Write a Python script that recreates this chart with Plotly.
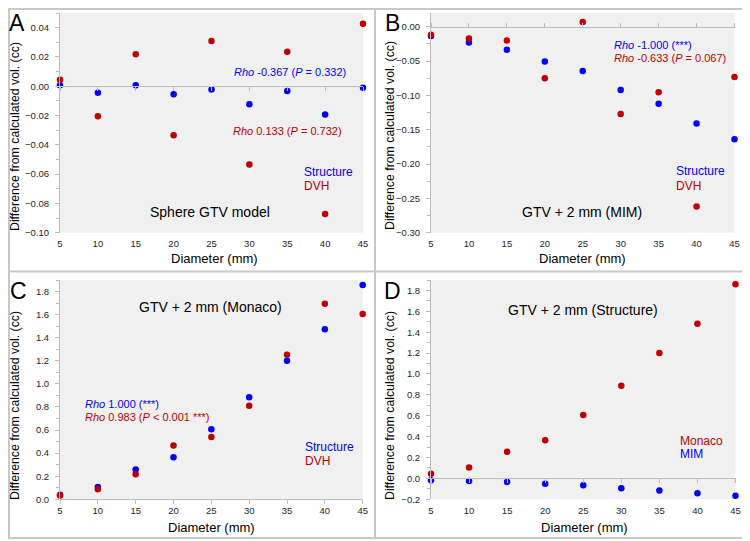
import plotly.graph_objects as go

# the page puts the figure 8 px in from the top-left corner, so the figure is
# drawn 8 px smaller and every pixel position below is shifted by that amount
W, H = 742, 533
OFF = 8
FONT = "Arial, Liberation Sans, sans-serif"
BLUE = "#0000ff"
RED = "#c00000"
AXIS_GREY = "#bdbdbd"

diameter = [5, 10, 15, 20, 25, 30, 35, 40, 45]

# A: sphere GTV model
a_structure = [0.0007, -0.0045, 0.0007, -0.0055, -0.0023, -0.0123, -0.0032, -0.0193, -0.0011]
a_dvh = [0.0045, -0.0205, 0.0218, -0.0334, 0.0309, -0.0534, 0.0236, -0.0873, 0.0427]

# B: GTV + 2 mm (MIM)
b_structure = [-0.0136, -0.0228, -0.0335, -0.0505, -0.0646, -0.0922, -0.112, -0.141, -0.164]
b_dvh = [-0.0117, -0.017, -0.020, -0.0752, 0.0068, -0.127, -0.0956, -0.262, -0.0733]

# C: GTV + 2 mm (Monaco)
c_structure = [0.040, 0.106, 0.259, 0.365, 0.606, 0.885, 1.201, 1.474, 1.856]
c_dvh = [0.034, 0.086, 0.216, 0.466, 0.540, 0.810, 1.253, 1.695, 1.606]

# D: GTV + 2 mm (Structure)
d_monaco = [0.045, 0.105, 0.255, 0.366, 0.608, 0.888, 1.200, 1.480, 1.860]
d_mim = [-0.017, -0.024, -0.034, -0.052, -0.066, -0.094, -0.116, -0.142, -0.167]


def px(x):
    return (x - OFF) / W


def py(y):
    return 1 - (y - OFF) / H


# panel geometry in page pixels: (left, right, top, bottom), y range, major, minor
panels = [
    dict(dom=(60, 363, 13, 232.7), yr=(-0.10, 0.05), dt=0.02, mdt=0.01, fmt=".2f",
         series=[(a_structure, BLUE), (a_dvh, RED)], tickside="bottom"),
    dict(dom=(431, 734.5, 13, 232.7), yr=(-0.30, 0.02), dt=0.05, mdt=0.025, fmt=".2f",
         series=[(b_structure, BLUE), (b_dvh, RED)], tickside="top"),
    dict(dom=(60, 362.7, 280, 499.3), yr=(0.0, 1.9), dt=0.2, mdt=0.1, fmt=".1f",
         series=[(c_structure, BLUE), (c_dvh, RED)], tickside="bottom"),
    dict(dom=(431, 735.5, 280, 499.3), yr=(-0.2, 1.9), dt=0.2, mdt=0.1, fmt=".1f",
         series=[(d_mim, BLUE), (d_monaco, RED)], tickside="bottom"),
]

fig = go.Figure()
layout = {}
for i, p in enumerate(panels):
    n = i + 1
    sfx = "" if n == 1 else str(n)
    l, r, t, b = p["dom"]
    xd = [px(l), px(r)]
    yd = [py(b), py(t)]
    for vals, col in p["series"]:
        fig.add_trace(go.Scatter(x=diameter, y=vals, mode="markers", cliponaxis=False,
                                 marker=dict(size=6.5, color=col),
                                 xaxis="x" + sfx, yaxis="y" + sfx, showlegend=False))
    layout["xaxis" + sfx] = dict(domain=xd, range=[5, 45], anchor="y" + sfx,
                                 tickvals=diameter, showgrid=False, zeroline=False,
                                 showline=False, ticks="outside", ticklen=2,
                                 tickcolor="rgba(0,0,0,0)", automargin=False,
                                 tickfont=dict(size=9.5, color="#262626", family=FONT))
    layout["yaxis" + sfx] = dict(domain=yd, range=list(p["yr"]), anchor="x" + sfx,
                                 dtick=p["dt"], tick0=0, tickformat=p["fmt"],
                                 showgrid=False, zeroline=False, showline=True,
                                 linecolor=AXIS_GREY, linewidth=1, ticks="outside",
                                 ticklen=4, tickcolor=AXIS_GREY, ticklabelstandoff=4,
                                 automargin=False,
                                 minor=dict(dtick=p["mdt"], ticks="outside", ticklen=3,
                                            tickcolor=AXIS_GREY),
                                 tickfont=dict(size=9.5, color="#262626", family=FONT))
    # horizontal axis line crossing at zero, with its tick marks
    zx = "xaxis" + str(n + 4)
    y0, y1 = p["yr"]
    zpos = yd[0] + (0 - y0) / (y1 - y0) * (yd[1] - yd[0])
    layout[zx] = dict(domain=xd, range=[5, 45], anchor="free", position=zpos,
                      overlaying="x" + sfx, side=p["tickside"], tickvals=diameter,
                      showticklabels=False, showgrid=False, zeroline=False,
                      showline=True, linecolor=AXIS_GREY, linewidth=1,
                      ticks="outside", ticklen=4, tickcolor=AXIS_GREY, automargin=False)
    fig.add_trace(go.Scatter(x=diameter, y=p["series"][0][0], mode="markers",
                             marker=dict(opacity=0), hoverinfo="skip",
                             xaxis="x" + str(n + 4), yaxis="y" + sfx, showlegend=False))

fig.update_layout(**layout)

ann = []


def text(x, y, s, size, color="#000000", xanchor="center"):
    ann.append(dict(x=px(x), y=py(y), xref="paper", yref="paper", text=s,
                    showarrow=False, xanchor=xanchor, yanchor="middle",
                    font=dict(size=size, color=color, family=FONT)))


ytitle = "Difference from calculated vol. (cc)"
for x0, y0 in [(15, 137), (390, 136), (15, 406), (390, 406)]:
    ann.append(dict(x=px(x0), y=py(y0), xref="paper", yref="paper", text=ytitle,
                    textangle=-90, showarrow=False, xanchor="center", yanchor="middle",
                    font=dict(size=12.3, color="#000000", family=FONT)))
for x0, y0 in [(215, 258), (582.5, 258), (211, 527), (584, 527)]:
    text(x0, y0, "Diameter (mm)", 13)

for x0, y0, letter in [(17, 23, "A"), (392, 23, "B"), (18, 290.5, "C"), (392.5, 290.5, "D")]:
    text(x0, y0, letter, 23)

# panel A
text(348, 71.7, "<i>Rho</i> -0.367 (<i>P</i> = 0.332)", 11, BLUE, "right")
text(344, 130.7, "<i>Rho</i> 0.133 (<i>P</i> = 0.732)", 11, RED, "right")
text(302, 172, "Structure", 12, BLUE, "left")
text(302, 185.7, "DVH", 12, RED, "left")
text(210, 212.3, "Sphere GTV model", 14)

# panel B
text(612, 45, "<i>Rho</i> -1.000 (***)", 11, BLUE, "left")
text(612, 58, "<i>Rho</i> -0.633 (<i>P</i> = 0.067)", 11, RED, "left")
text(674, 171.3, "Structure", 12, BLUE, "left")
text(674, 185.7, "DVH", 12, RED, "left")
text(581.7, 212.3, "GTV + 2 mm (MIM)", 14)

# panel C
text(210.8, 307, "GTV + 2 mm (Monaco)", 14)
text(83.3, 404.3, "<i>Rho</i> 1.000 (***)", 11, BLUE, "left")
text(83.3, 416.7, "<i>Rho</i> 0.983 (<i>P</i> &lt; 0.001 ***)", 11, RED, "left")
text(303.3, 446.7, "Structure", 12, BLUE, "left")
text(303.3, 460.7, "DVH", 12, RED, "left")

# panel D
text(583.3, 310.3, "GTV + 2 mm (Structure)", 14)
text(678.3, 441, "Monaco", 12, RED, "left")
text(678.3, 454.3, "MIM", 12, BLUE, "left")

# grey frames round the four panels (left/top edges kept just inside the figure)
frame = dict(color="#c8c8c8", width=2)
shapes = [
    dict(type="rect", xref="paper", yref="paper", x0=px(9), x1=px(745), y0=py(538), y1=py(9), line=frame),
    dict(type="line", xref="paper", yref="paper", x0=px(375), x1=px(375), y0=py(538), y1=py(9), line=frame),
    dict(type="line", xref="paper", yref="paper", x0=px(9), x1=px(745), y0=py(271.5), y1=py(271.5), line=frame),
]

fig.update_layout(template="none", width=W, height=H, margin=dict(l=0, r=0, t=0, b=0),
                  paper_bgcolor="#ffffff", plot_bgcolor="#f0f0f0",
                  font=dict(family=FONT), annotations=ann, shapes=shapes,
                  showlegend=False)

fig.write_html("out.html")
